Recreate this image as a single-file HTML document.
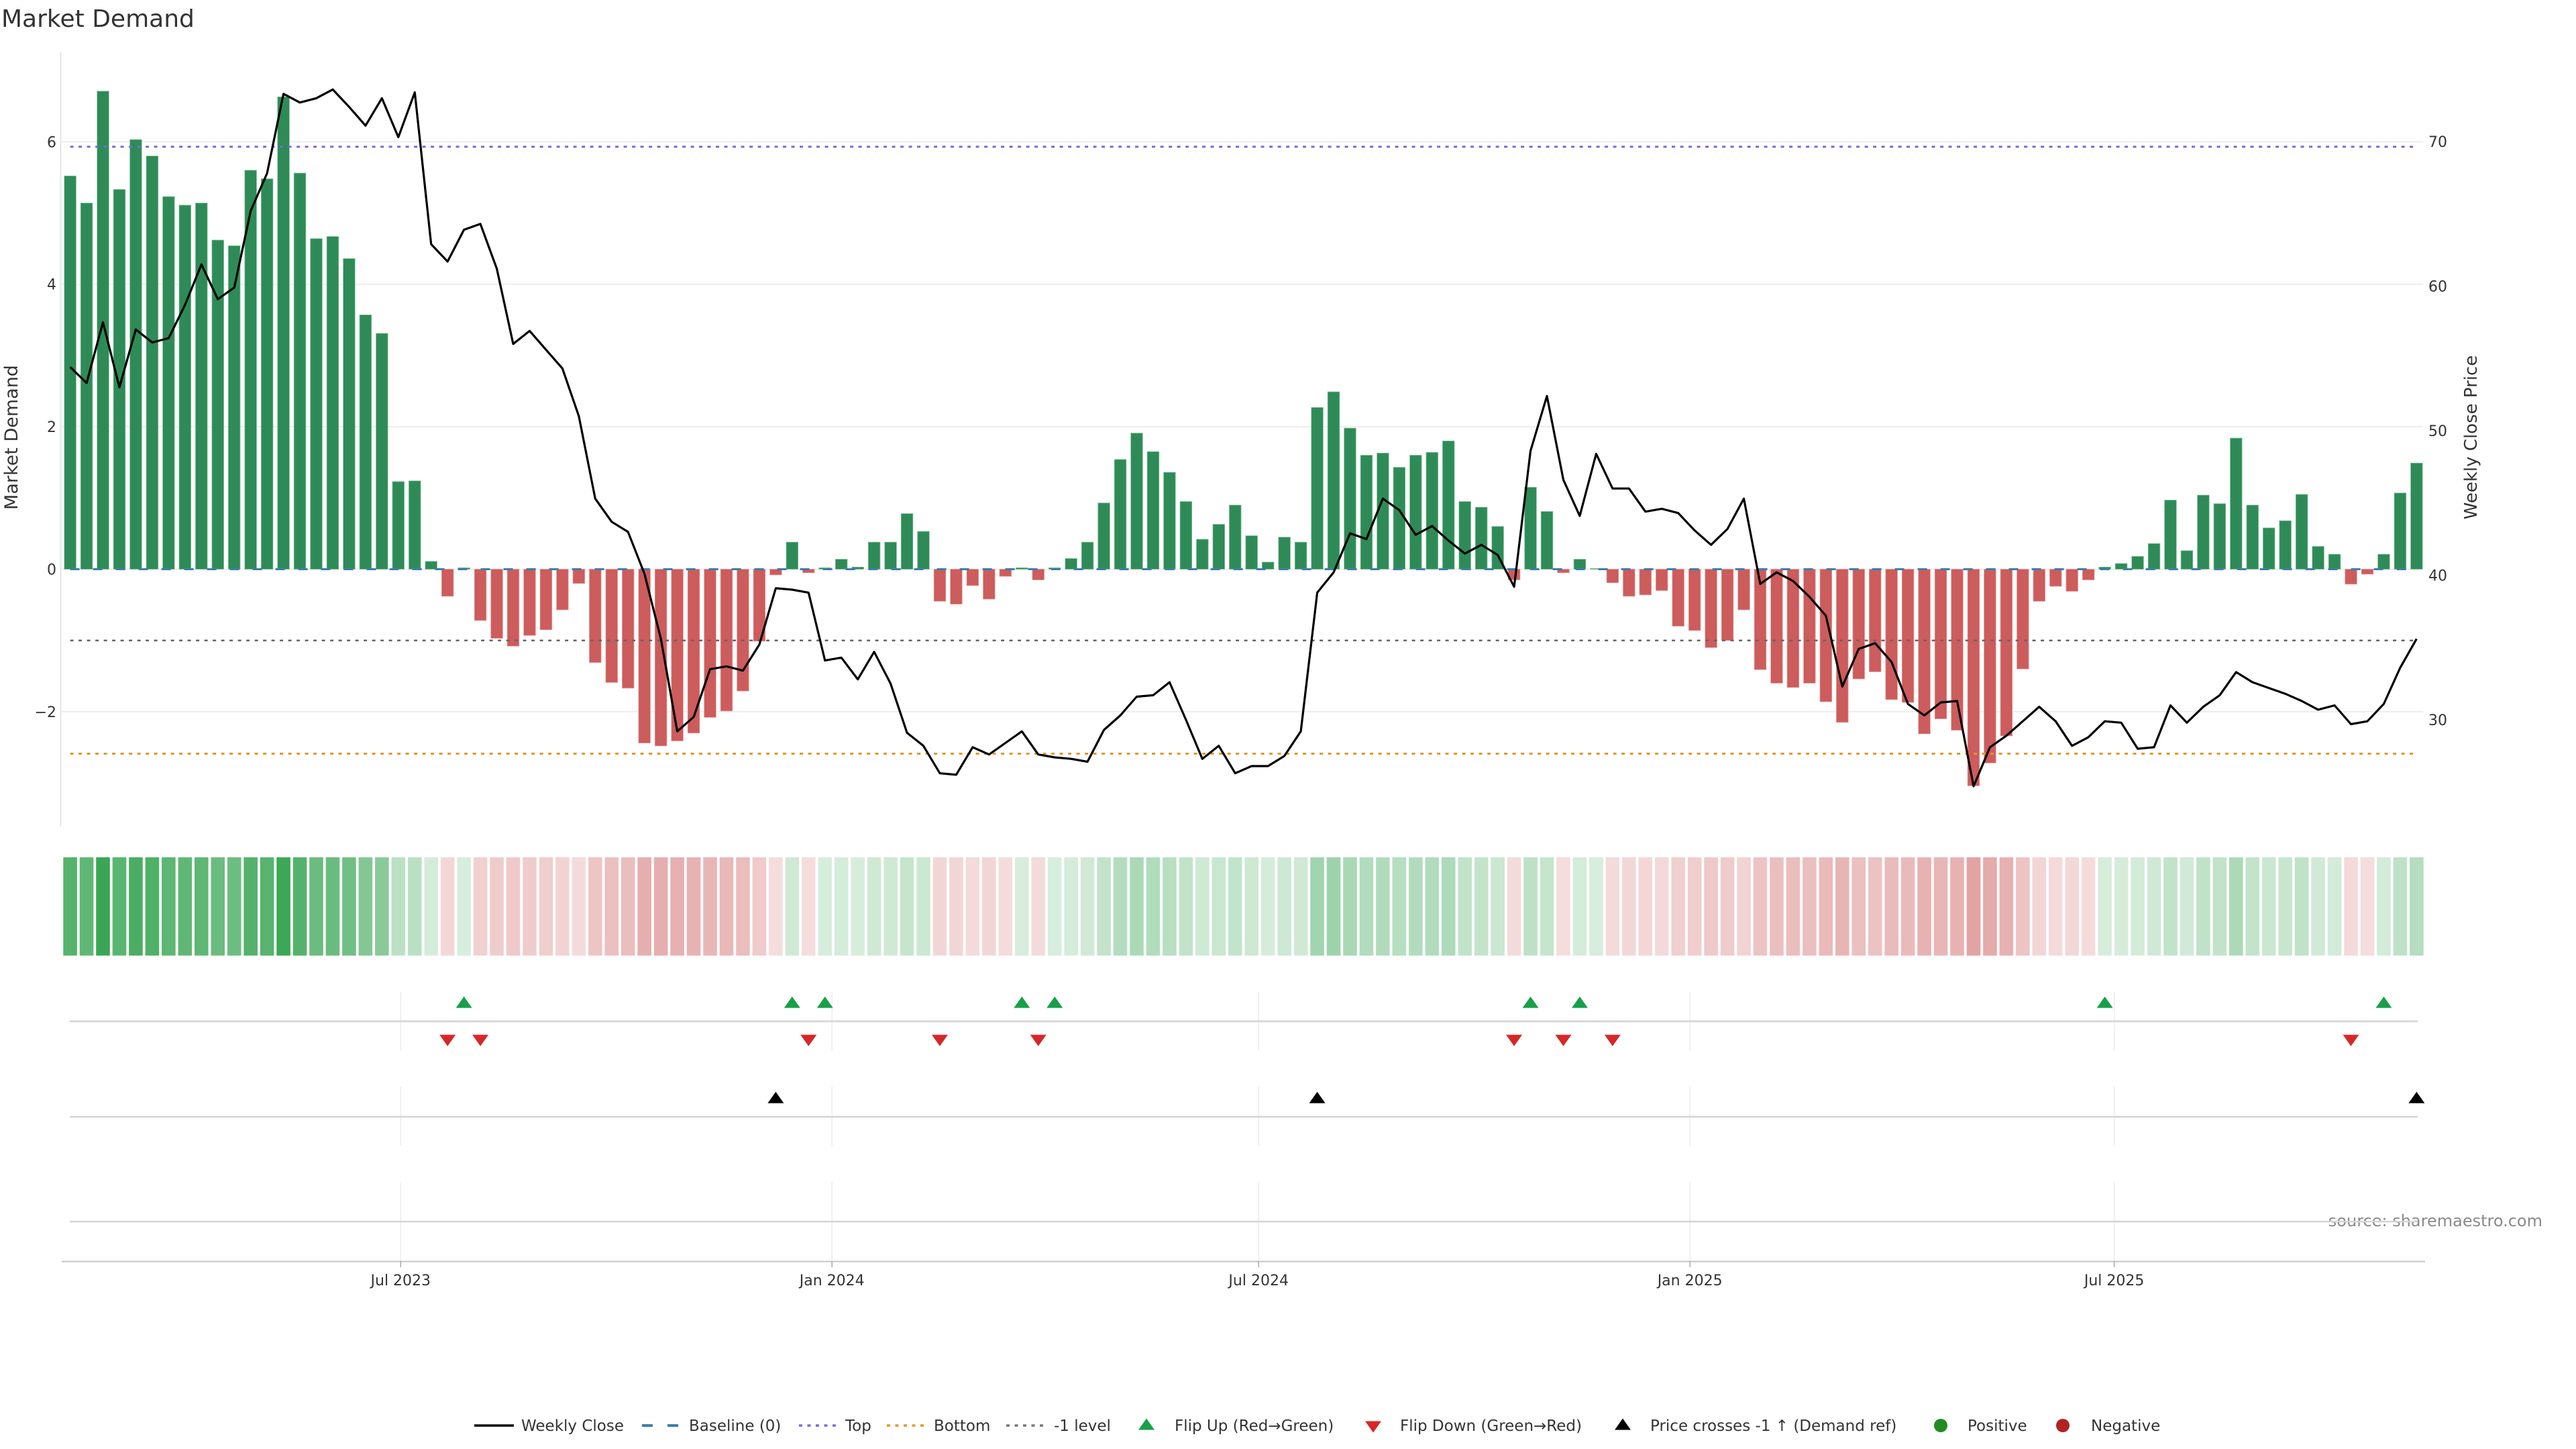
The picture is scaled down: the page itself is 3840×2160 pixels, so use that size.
<!DOCTYPE html>
<html><head><meta charset="utf-8"><title>Market Demand</title>
<style>html,body{margin:0;padding:0;background:#fff}svg{display:block;font-family:"DejaVu Sans","Liberation Sans",sans-serif}</style>
</head><body>
<svg id="chart" xmlns="http://www.w3.org/2000/svg" width="3840" height="2160" viewBox="0 0 3840 2160">
<rect width="3840" height="2160" fill="#fff"/>
<text x="2" y="40" font-size="36" fill="#333">Market Demand</text>
<text transform="translate(26,652) rotate(-90)" text-anchor="middle" font-size="27" fill="#333">Market Demand</text>
<text transform="translate(3692,652) rotate(-90)" text-anchor="middle" font-size="26" fill="#333">Weekly Close Price</text>
<text x="3790" y="1828" text-anchor="end" font-size="24" fill="#8a8a8a">source: sharemaestro.com</text>
<g id="g-main"></g>
<g id="g-heat"></g>
<g id="g-flags"></g>
<g id="g-xaxis"></g>
<g id="g-legend"></g>
</svg>
<script>
const demand = [5.52,5.14,6.71,5.33,6.03,5.80,5.23,5.11,5.14,4.62,4.54,5.60,5.48,6.63,5.56,4.64,4.67,4.36,3.57,3.31,1.23,1.24,0.11,
-0.38,0.02,-0.72,-0.97,-1.08,-0.93,-0.85,-0.57,-0.20,-1.31,-1.59,-1.67,-2.44,-2.48,-2.41,-2.30,-2.08,-1.99,-1.71,-1.01,-0.08,0.38,-0.05,0.02,0.14,0.03,
0.38,0.38,0.78,0.53,-0.45,-0.49,-0.23,-0.42,-0.10,0.02,-0.15,0.02,
0.15,0.38,0.93,1.54,1.91,1.65,1.36,0.95,0.42,0.63,0.90,0.47,0.10,0.45,0.38,2.27,2.49,1.98,1.60,1.63,1.43,1.60,1.64,1.80,0.95,0.87,0.60,-0.15,1.15,0.81,-0.05,0.14,0.01,-0.19,-0.38,-0.36,-0.30,-0.80,-0.86,-1.10,
-1.00,-0.57,-1.41,-1.60,-1.66,-1.60,-1.86,-2.15,-1.54,-1.44,-1.83,-1.87,-2.31,-2.10,-2.26,-3.04,-2.72,-2.34,-1.40,-0.45,-0.24,-0.31,-0.15,0.03,0.08,0.18,0.36,0.97,0.26,1.04,0.92,1.84,0.90,0.58,0.68,1.05,0.32,0.21,-0.21,-0.07,0.21,1.07,1.49];
const price = [54.4,53.3,57.5,53.0,57.0,56.1,56.4,58.7,61.5,59.1,59.9,65.2,67.8,73.3,72.7,73.0,73.6,72.4,71.1,73.0,70.3,73.4,62.9,61.7,63.9,64.3,61.2,56.0,56.9,55.6,54.3,51.0,45.3,43.7,43.0,40.1,35.6,29.2,30.2,33.5,33.7,33.4,35.2,39.1,39.0,38.8,34.1,34.3,32.8,34.7,
32.5,29.1,28.2,26.3,26.2,28.1,27.6,28.4,29.2,27.6,27.4,27.3,27.1,29.3,30.3,31.6,31.7,32.6,30.0,27.3,28.2,26.3,26.8,26.8,27.5,29.2,38.8,40.2,42.9,42.5,45.3,44.5,42.8,43.4,42.4,41.5,42.1,41.4,39.2,48.6,52.4,46.6,44.1,48.4,46.0,46.0,44.4,44.6,44.3,43.1,42.1,
43.2,45.3,39.4,40.2,39.6,38.5,37.2,32.3,34.9,35.3,34.0,31.1,30.3,31.2,31.3,25.4,28.1,28.9,29.9,30.9,29.9,28.2,28.8,29.9,29.8,28.0,28.1,31.0,29.8,30.9,31.7,33.3,32.6,32.2,31.8,31.3,30.7,31.0,29.7,29.9,31.1,33.6,35.6];
const flipUpIdx = [24,44,46,58,60,89,92,124,141];
const flipDownIdx = [23,25,45,53,59,88,91,94,139];
const crossIdx = [43,76,143];
const startDate = "2023-02-10";
const xTickDates = ["2023-07-01","2024-01-01","2024-07-01","2025-01-01","2025-07-01"];
const xTickLabels = ["Jul 2023","Jan 2024","Jul 2024","Jan 2025","Jul 2025"];
const leftTicks = [-2,0,2,4,6];
const leftTickLabels = ["\u22122","0","2","4","6"];
const rightTicks = [30,40,50,60,70];
const refTop = 5.93, refBottom = -2.59, refMinus1 = -1;

const NS="http://www.w3.org/2000/svg";
function mk(tag, attrs, parent){const e=document.createElementNS(NS,tag);for(const k in attrs)e.setAttribute(k,attrs[k]);if(parent)parent.appendChild(e);return e;}
const X0=104.6, STEP=24.46;
const t0=Date.parse(startDate);
function xIdx(i){return X0+i*STEP;}
function xDate(d){return X0+(Date.parse(d)-t0)/86400000/7*STEP;}
function yD(v){return 848.5-v*106.2;}
function yP(p){return 857.5-(p-40)*21.55;}
const PL=90.5, PR=3612, PT=78, PB=1232;

const gm=document.getElementById('g-main');
let sp=mk('line',{x1:PL,x2:PL,y1:PT,y2:PB,stroke:'#e6e6e6','stroke-width':2},gm);


leftTicks.forEach((v,k)=>{
  const g=mk('line',{x1:PL,x2:PR,y1:yD(v),y2:yD(v),stroke:'#ededed','stroke-width':2},gm);
  
  
  const t=mk('text',{x:84,y:yD(v)+8,'text-anchor':'end','font-size':22,fill:'#333'},gm);
  t.textContent=leftTickLabels[k];
  
  
});
rightTicks.forEach(p=>{
  const t=mk('text',{x:3620,y:yP(p)+8,'font-size':22,fill:'#333'},gm);
  t.textContent=String(p);
  
  
});
demand.forEach((v,i)=>{
  const y=v>=0?yD(v):yD(0), h=Math.abs(yD(v)-yD(0));
  const r=mk('rect',{x:xIdx(i)-8.8,y:y,width:17.6,height:Math.max(h,0.5),fill:v>=0?'#2e8b57':'#cd5c5c',stroke:v>=0?'#7fbf95':'#e49a9a','stroke-width':0.8},gm);
  
  
});
function hline(v,color,dash,w,name){
  const l=mk('line',{x1:xIdx(0),x2:xIdx(demand.length-1),y1:yD(v),y2:yD(v),stroke:color,'stroke-width':w,'stroke-dasharray':dash},gm);
  
  
}
hline(0,'#3b7fab','14 20',3,'baseline-zero');
hline(refTop,'#7b68dd','5 7.5',3,'top-level');
hline(refBottom,'#e6952a','5 7.5',3,'bottom-level');
hline(refMinus1,'#666','5 7.5',2.5,'minus-one-level');
const pts=price.map((p,i)=>xIdx(i).toFixed(1)+','+yP(p).toFixed(1)).join(' ');
const pl=mk('polyline',{points:pts,fill:'none',stroke:'#000','stroke-width':3.2,'stroke-linejoin':'round'},gm);



const gh=document.getElementById('g-heat');
const maxAbs=Math.max(...demand.map(Math.abs));
function blend(c,a){return 'rgb('+c.map(ch=>Math.round(255-(255-ch)*a)).join(',')+')';}
demand.forEach((v,i)=>{
  const a=0.2+0.8*Math.abs(v)/maxAbs;
  const col=v>=0?blend([58,166,85],a):blend([205,92,92],a);
  const r=mk('rect',{x:xIdx(i)-10.3,y:1278,width:20.6,height:146.5,fill:col},gh);
  
  
});

const gf=document.getElementById('g-flags');
const panels=[[1478,1566,1522.5],[1620,1708,1664.7],[1762,1880,1821]];
xTickDates.forEach(d=>{
  panels.forEach(p=>{
    const l=mk('line',{x1:xDate(d),x2:xDate(d),y1:p[0],y2:p[1],stroke:'#ececec','stroke-width':1.5},gf);
    
    
  });
});
panels.forEach(p=>{
  const l=mk('line',{x1:104,x2:3604,y1:p[2],y2:p[2],stroke:'#d4d4d4','stroke-width':2.5},gf);
  
  
});
function tri(cx,cy,up,color,parent){
  const w=12,h=8.5;
  const d=up?`M${cx-w},${cy+h} L${cx+w},${cy+h} L${cx},${cy-h} Z`:`M${cx-w},${cy-h} L${cx+w},${cy-h} L${cx},${cy+h} Z`;
  return mk('path',{d:d,fill:color},parent);
}
flipUpIdx.forEach(i=>{const t=tri(xIdx(i),1494,true,'#17a04a',gf);
  
  });
flipDownIdx.forEach(i=>{const t=tri(xIdx(i),1551,false,'#d62728',gf);
  
  });
crossIdx.forEach(i=>{const t=tri(xIdx(i),1636,true,'#000',gf);
  
  });

const gx=document.getElementById('g-xaxis');
const ax=mk('line',{x1:92,x2:3615,y1:1880.5,y2:1880.5,stroke:'#cfcfcf','stroke-width':2.5},gx);


xTickDates.forEach((d,k)=>{
  const x=xDate(d);
  const tk=mk('line',{x1:x,x2:x,y1:1880,y2:1889,stroke:'#aaa','stroke-width':1.5},gx);
  
  
  const t=mk('text',{x:x,y:1916,'text-anchor':'middle','font-size':22,fill:'#333'},gx);
  t.textContent=xTickLabels[k];
  
  
});

const gl=document.getElementById('g-legend');
const LY=2125;
function ltext(x,s){const t=mk('text',{x:x,y:LY+8,'font-size':23,fill:'#333'},gl);t.textContent=s;
  
  }
function lline(x1,x2,color,dash,w){const l=mk('line',{x1:x1,x2:x2,y1:LY,y2:LY,stroke:color,'stroke-width':w,'stroke-dasharray':dash},gl);
  
  }
lline(707,766,'#000','none',3.5); ltext(777,'Weekly Close');
lline(957,1012,'#3b7fab','16 22',4); ltext(1027,'Baseline (0)');
lline(1191,1246,'#7b68dd','5 7.5',3.5); ltext(1260,'Top');
lline(1322,1377,'#e6952a','5 7.5',3.5); ltext(1392,'Bottom');
lline(1500,1555,'#777','5 7.5',3.5); ltext(1571,'-1 level');
let m=tri(1709,LY-2,true,'#17a04a',gl);


ltext(1751,'Flip Up (Red\u2192Green)');
m=tri(2047,LY+2,false,'#d62728',gl);


ltext(2087,'Flip Down (Green\u2192Red)');
m=tri(2419,LY-2,true,'#000',gl);


ltext(2460,'Price crosses -1 \u2191 (Demand ref)');
m=mk('circle',{cx:2893,cy:LY,r:10,fill:'#228b22'},gl);


ltext(2933,'Positive');
m=mk('circle',{cx:3075,cy:LY,r:10,fill:'#b22222'},gl);


ltext(3117,'Negative');
</script>
</body></html>
